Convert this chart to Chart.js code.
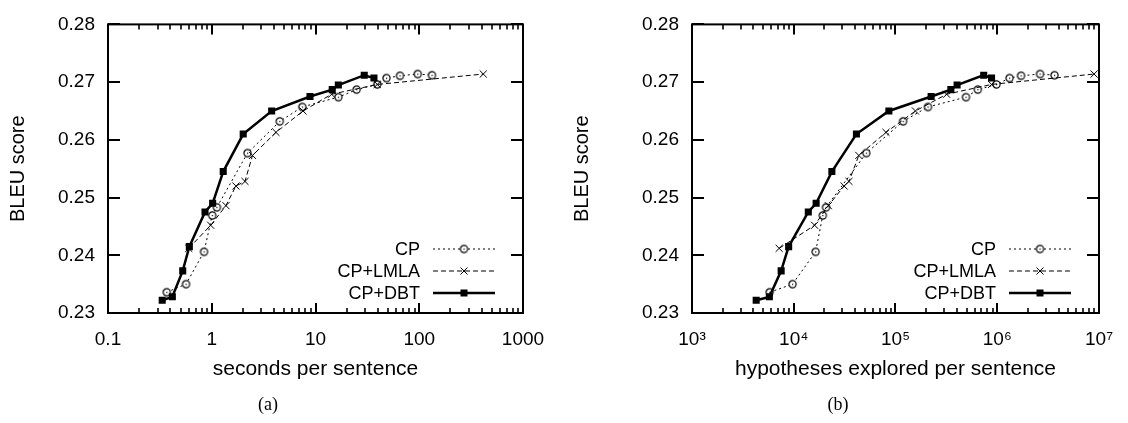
<!DOCTYPE html>
<html>
<head>
<meta charset="utf-8">
<title>BLEU vs search effort</title>
<script src="https://cdn.jsdelivr.net/npm/chart.js@4.4.0/dist/chart.umd.min.js"></script>
<style>
    html, body { margin: 0; padding: 0; background: #fff; }
    #page { position: relative; width: 1128px; height: 423px; overflow: hidden; }
    .panel { position: absolute; top: 0; width: 564px; height: 423px; }
    .caption { position: absolute; top: 394px; width: 40px; text-align: center; font: 18px "Liberation Serif", serif; color: #000; }
</style>
</head>
<body>
<div id="page">
    <div class="panel" style="left:0"><canvas id="bleu-time-chart" width="564" height="423"></canvas></div>
    <div class="panel" style="left:564px"><canvas id="bleu-hyp-chart" width="564" height="423"></canvas></div>
    <div class="caption" style="left:248px">(a)</div>
    <div class="caption" style="left:818px">(b)</div>
</div>
<script>
// BLEU scores (same systems in both panels)
var cp_bleu = [0.2336, 0.2350, 0.2406, 0.2469, 0.2483, 0.2577, 0.2632, 0.2657, 0.2674, 0.2687, 0.2696, 0.2707, 0.2711, 0.2714, 0.2712];
var lmla_bleu = [0.2412, 0.2452, 0.2486, 0.2520, 0.2528, 0.2573, 0.2613, 0.2650, 0.2679, 0.2696, 0.2714];
var dbt_bleu = [0.2322, 0.2328, 0.2373, 0.2415, 0.2475, 0.2490, 0.2545, 0.2610, 0.2650, 0.2675, 0.2687, 0.2695, 0.2712, 0.2707];

// (a) seconds per sentence
var cp_seconds = [0.368, 0.565, 0.842, 1.01, 1.12, 2.21, 4.52, 7.46, 16.6, 24.9, 39.4, 48.3, 65.2, 96.6, 132.7];
var lmla_seconds = [0.6, 0.977, 1.37, 1.71, 2.09, 2.47, 4.16, 7.58, 14.3, 39.4, 414];
var dbt_seconds = [0.333, 0.417, 0.525, 0.608, 0.861, 1.02, 1.29, 2.01, 3.78, 8.85, 14.5, 16.6, 29.5, 36.6];

// (b) hypotheses explored per sentence
var cp_hyps = [5800, 9730, 16390, 19280, 20750, 51650, 118700, 208400, 493000, 644000, 982000, 1321000, 1714000, 2632000, 3650000];
var lmla_hyps = [7190, 16030, 21880, 31250, 34900, 43600, 80600, 157000, 318000, 879000, 8950000];
var dbt_hyps = [4275, 5760, 7520, 8910, 13900, 16600, 23700, 41300, 86100, 224000, 350000, 403000, 736000, 879000];

var series_names = ['CP', 'CP+LMLA', 'CP+DBT'];
var y_ticks = [0.23, 0.24, 0.25, 0.26, 0.27, 0.28];
var seconds_ticks = [0.1, 1, 10, 100, 1000];
var seconds_labels = ['0.1', '1', '10', '100', '1000'];
var hyps_ticks = [1e3, 1e4, 1e5, 1e6, 1e7];
var hyps_labels = ['10\u00b3', '10\u2074', '10\u2075', '10\u2076', '10\u2077'];

Chart.defaults.font.family = '"Liberation Sans", Arial, sans-serif';
Chart.defaults.color = '#000';

function CircleDotMarker() {
    var c = document.createElement('canvas');
    c.width = 11;
    c.height = 11;
    var g = c.getContext('2d');
    g.fillStyle = '#fff';
    g.strokeStyle = '#000';
    g.lineWidth = 1.2;
    g.beginPath();
    g.arc(5.5, 5.5, 3.6, 0, Math.PI * 2);
    g.fill();
    g.stroke();
    g.fillStyle = '#000';
    g.fillRect(5, 5, 1.2, 1.2);
    return c;
}
var circle_marker = CircleDotMarker();

function ToPoints(xs, ys) {
    return xs.map(function (v, i) { return {x: v, y: ys[i]}; });
}

function MinorTicks(majors) {
    var out = [];
    for (var i = 0; i < majors.length - 1; i++) {
        for (var m = 2; m <= 9; m++) out.push(majors[i] * m);
    }
    return out;
}

function DrawMarker(ctx, kind, x, y) {
    if (kind === 'circle') {
        ctx.drawImage(circle_marker, x - 5.5, y - 5.5);
    } else if (kind === 'cross') {
        ctx.beginPath();
        ctx.setLineDash([]);
        ctx.lineWidth = 1;
        ctx.moveTo(x - 3.5, y - 3.5); ctx.lineTo(x + 3.5, y + 3.5);
        ctx.moveTo(x - 3.5, y + 3.5); ctx.lineTo(x + 3.5, y - 3.5);
        ctx.stroke();
    } else {
        ctx.fillRect(x - 3.5, y - 3.5, 7, 7);
    }
}

function TickLine(ctx, x1, y1, x2, y2) {
    ctx.beginPath();
    ctx.moveTo(x1, y1);
    ctx.lineTo(x2, y2);
    ctx.stroke();
}

// frame with inward ticks on all four sides, plus a gnuplot style key
var frameAndKey = {
    id: 'frameAndKey',
    afterDraw: function (chart) {
        var ctx = chart.ctx;
        var a = chart.chartArea;
        var xs = chart.scales.x;
        var ys = chart.scales.y;
        var majors = xs.ticks.map(function (t) { return t.value; });

        ctx.save();
        ctx.setLineDash([]);
        ctx.strokeStyle = '#000';
        ctx.fillStyle = '#000';
        ctx.lineWidth = 2;
        majors.forEach(function (v) {
            var px = Math.round(xs.getPixelForValue(v));
            TickLine(ctx, px, a.bottom, px, a.bottom - 10);
            TickLine(ctx, px, a.top, px, a.top + 10);
        });
        y_ticks.forEach(function (v) {
            var py = Math.round(ys.getPixelForValue(v));
            TickLine(ctx, a.left, py, a.left + 12, py);
            TickLine(ctx, a.right, py, a.right - 12, py);
        });
        ctx.lineWidth = 1.6;
        MinorTicks(majors).forEach(function (v) {
            var px = Math.round(xs.getPixelForValue(v));
            TickLine(ctx, px, a.bottom, px, a.bottom - 5);
            TickLine(ctx, px, a.top, px, a.top + 5);
        });
        ctx.lineWidth = 2;
        ctx.strokeRect(a.left, a.top, a.right - a.left, a.bottom - a.top);

        // key
        var rows = [a.bottom - 64, a.bottom - 42, a.bottom - 20];
        var dashes = [[2, 3], [5, 3], []];
        var widths = [1, 1, 2.5];
        var markers = ['circle', 'cross', 'square'];
        ctx.font = '18px "Liberation Sans", Arial, sans-serif';
        ctx.textAlign = 'right';
        ctx.textBaseline = 'middle';
        series_names.forEach(function (name, i) {
            var y = rows[i];
            ctx.fillText(name, a.right - 103, y + 1);
            ctx.beginPath();
            ctx.setLineDash(dashes[i]);
            ctx.lineWidth = widths[i];
            ctx.moveTo(a.right - 90, y);
            ctx.lineTo(a.right - 28, y);
            ctx.stroke();
            DrawMarker(ctx, markers[i], a.right - 59, y);
        });
        ctx.restore();
    }
};

function MakeBleuChart(canvas_id, cfg) {
    var ctx = document.getElementById(canvas_id);
    return new Chart(ctx, {
        type: 'line',
        data: {
            datasets: [{
                label: 'CP',
                data: ToPoints(cfg.cp, cp_bleu),
                borderColor: '#000',
                borderWidth: 1,
                borderDash: [2, 3],
                pointStyle: circle_marker,
                pointRadius: 4,
                order: 2
            }, {
                label: 'CP+LMLA',
                data: ToPoints(cfg.lmla, lmla_bleu),
                borderColor: '#000',
                borderWidth: 1,
                borderDash: [5, 3],
                pointStyle: 'crossRot',
                pointRadius: 5,
                pointBorderWidth: 1,
                pointBorderColor: '#000',
                order: 1
            }, {
                label: 'CP+DBT',
                data: ToPoints(cfg.dbt, dbt_bleu),
                borderColor: '#000',
                borderWidth: 2.5,
                pointStyle: 'rect',
                pointRadius: 5,
                pointBackgroundColor: '#000',
                pointBorderColor: '#000',
                pointBorderWidth: 0,
                order: 0
            }]
        },
        plugins: [frameAndKey],
        options: {
            responsive: false,
            animation: false,
            events: [],
            layout: {
                padding: {left: 0, right: cfg.pad_right, top: 13, bottom: 0}
            },
            plugins: {
                legend: false,
                tooltip: false
            },
            elements: {
                line: {tension: 0, fill: false}
            },
            scales: {
                x: {
                    type: 'logarithmic',
                    min: cfg.ticks[0],
                    max: cfg.ticks[cfg.ticks.length - 1],
                    grid: {display: false, drawTicks: false},
                    border: {display: false},
                    afterBuildTicks: function (scale) {
                        scale.ticks = cfg.ticks.map(function (v) { return {value: v}; });
                    },
                    afterFit: function (scale) { scale.height = 110; },
                    ticks: {
                        autoSkip: false,
                        maxRotation: 0,
                        padding: 15,
                        font: {size: 19},
                        callback: function (value) {
                            var i = cfg.ticks.indexOf(value);
                            return i >= 0 ? cfg.labels[i] : '';
                        }
                    },
                    title: {
                        display: true,
                        text: cfg.title,
                        font: {size: 21},
                        padding: {top: 0, bottom: 41}
                    }
                },
                y: {
                    min: 0.23,
                    max: 0.28,
                    grid: {display: false, drawTicks: false},
                    border: {display: false},
                    afterBuildTicks: function (scale) {
                        scale.ticks = y_ticks.map(function (v) { return {value: v}; });
                    },
                    afterFit: function (scale) { scale.width = cfg.y_width; },
                    ticks: {
                        padding: 13,
                        font: {size: 19},
                        callback: function (value) { return Number(value).toFixed(2); }
                    },
                    title: {
                        display: true,
                        text: 'BLEU score',
                        font: {size: 20},
                        padding: {top: 6, bottom: 0}
                    }
                }
            }
        }
    });
}

var BleuTimeChart = MakeBleuChart('bleu-time-chart', {
    cp: cp_seconds, lmla: lmla_seconds, dbt: dbt_seconds,
    ticks: seconds_ticks, labels: seconds_labels,
    title: 'seconds per sentence',
    y_width: 108, pad_right: 41
});

var BleuHypChart = MakeBleuChart('bleu-hyp-chart', {
    cp: cp_hyps, lmla: lmla_hyps, dbt: dbt_hyps,
    ticks: hyps_ticks, labels: hyps_labels,
    title: 'hypotheses explored per sentence',
    y_width: 128, pad_right: 22
});
</script>
</body>
</html>
